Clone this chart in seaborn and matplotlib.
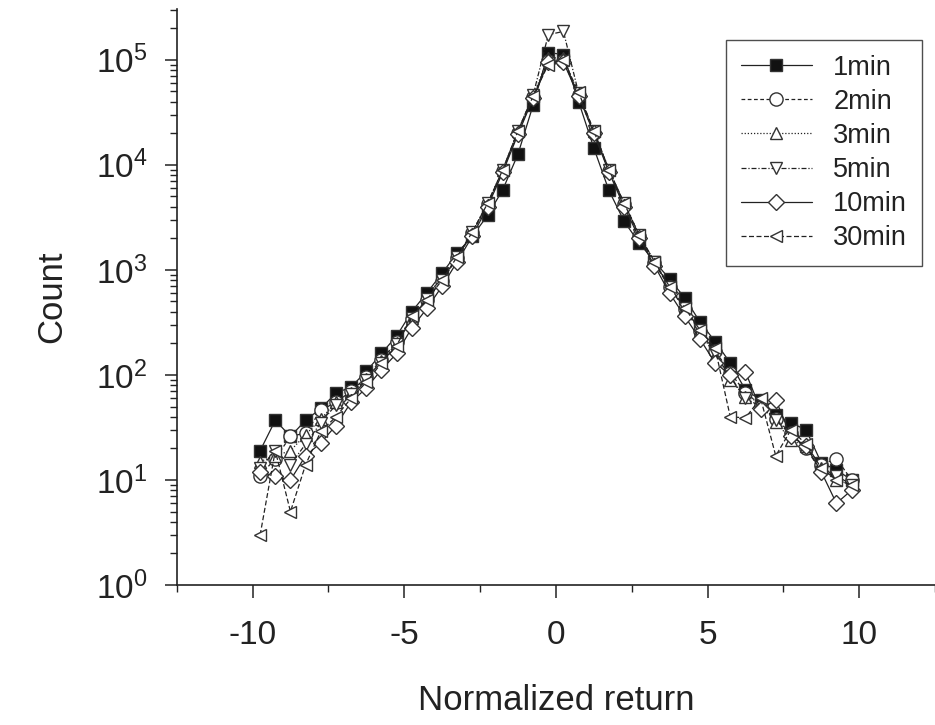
import numpy as np
import pandas as pd
import matplotlib
matplotlib.use('Agg')
import matplotlib.pyplot as plt
import matplotlib.ticker as mticker
import seaborn as sns

# bin centres of the normalized return histogram
bins = [-9.75, -9.25, -8.75, -8.25, -7.75, -7.25, -6.75, -6.25, -5.75, -5.25,
        -4.75, -4.25, -3.75, -3.25, -2.75, -2.25, -1.75, -1.25, -0.75, -0.25,
        0.25, 0.75, 1.25, 1.75, 2.25, 2.75, 3.25, 3.75, 4.25, 4.75,
        5.25, 5.75, 6.25, 6.75, 7.25, 7.75, 8.25, 8.75, 9.25, 9.75]

# counts
count_1min = [19, 37, 26, 37, 48, 67, 77, 108, 160, 235,
              400, 605, 930, 1450, 2100, 3300, 5800, 12600, 37000, 117000,
              112000, 40000, 14500, 5700, 2900, 1800, 1200, 820, 540, 320,
              208, 130, 72, 58, 42, 35, 30, 14.6, 12.5, 10]
count_2min = [11, 16, 26, 28, 46, 55, 70, 95, 140, 205,
              340, 520, 790, 1300, 2250, 4200, 8800, 20000, 44000, 98000,
              97000, 46000, 20000, 8800, 4200, 2100, 1150, 680, 420, 260,
              170, 105, 68, 52, 38, 28, 20, 14, 16, 10]
count_3min = [15, 17, 19, 27, 38, 55, 68, 92, 135, 200,
              350, 530, 800, 1320, 2300, 4300, 9000, 21000, 45000, 105000,
              103000, 47000, 21000, 9000, 4300, 2150, 1200, 690, 430, 265,
              150, 90, 62, 55, 36, 24, 21, 13, 10, 9]
count_5min = [13, 19, 14, 22, 35, 52, 66, 90, 130, 195,
              345, 525, 800, 1330, 2300, 4300, 9000, 21000, 46000, 173000,
              186000, 48000, 21000, 9000, 4300, 2150, 1180, 690, 435, 268,
              160, 95, 60, 50, 37, 27, 20, 12, 11, 9]
count_10min = [12, 10.8, 10, 17, 22.6, 33, 55, 75, 112, 160,
               280, 430, 700, 1200, 2100, 4000, 8500, 19500, 43000, 95000,
               95000, 45000, 20000, 8500, 4000, 2000, 1100, 600, 360, 220,
               130, 100, 107, 47, 58, 26, 21, 12, 6, 8]
count_30min = [3, 19, 5, 14, 29, 40, 60, 85, 130, 190,
               360, 520, 800, 1340, 2300, 4300, 9000, 21000, 45000, 90000,
               100000, 49000, 21000, 9000, 4300, 2150, 1200, 690, 435, 268,
               180, 40, 39, 60, 17, 30, 22, 13, 10, 9]

labels = ['1min', '2min', '3min', '5min', '10min', '30min']
series = [count_1min, count_2min, count_3min, count_5min, count_10min, count_30min]
markers = ['s', 'o', '^', 'v', 'D', '<']
dashes = ['-', (0, (3, 2)), (0, (1, 1.5)), (0, (4, 1.5, 1, 1.5)), '-', (0, (4, 2))]
msizes = [8.5, 9.5, 9, 9, 8, 9]

sns.set_theme(style='ticks')
plt.rcParams['font.family'] = ['Liberation Sans', 'DejaVu Sans']
plt.rcParams['mathtext.fontset'] = 'custom'
plt.rcParams['mathtext.rm'] = 'Liberation Sans'
plt.rcParams['axes.unicode_minus'] = False

fig = plt.figure(figsize=(9.35, 7.25), dpi=100)
ax = fig.add_axes([0.189, 0.193, 0.811, 0.795])

for lab, cnt, mk, ls, ms in zip(labels, series, markers, dashes, msizes):
    df = pd.DataFrame({'x': bins, 'y': cnt})
    face = '#111111' if lab == '1min' else 'white'
    sns.lineplot(data=df, x='x', y='y', ax=ax, color='#222222', linewidth=0.9,
                 linestyle=ls, marker=mk, markersize=ms, markerfacecolor=face,
                 markeredgecolor='#333333', markeredgewidth=1.0, label=lab)

ax.set_yscale('log')
ax.set_ylim(1, 3.06e5)
ax.set_xlim(-12.5, 12.5)
ax.xaxis.set_major_locator(mticker.MultipleLocator(5))
ax.xaxis.set_minor_locator(mticker.MultipleLocator(2.5))
ax.yaxis.set_major_locator(mticker.LogLocator(base=10, numticks=10))
ax.yaxis.set_minor_locator(mticker.LogLocator(base=10, subs=np.arange(2, 10), numticks=20))
ax.yaxis.set_minor_formatter(mticker.NullFormatter())

for s in ['top', 'right']:
    ax.spines[s].set_visible(False)
for s in ['left', 'bottom']:
    ax.spines[s].set_linewidth(1.2)
    ax.spines[s].set_color('#222222')

ax.tick_params(axis='both', which='major', direction='out', length=9, width=1.1,
               labelsize=24, color='#222222', labelcolor='#222222')
ax.tick_params(axis='both', which='minor', direction='out', length=5, width=1.0,
               color='#222222')
ax.tick_params(axis='x', which='major', pad=16)
ax.tick_params(axis='y', which='major', pad=12)

ax.set_xlabel('Normalized return', fontsize=25, color='#222222', labelpad=24)
ax.set_ylabel('Count', fontsize=25, color='#222222', labelpad=20)

leg = ax.legend(loc='upper right', bbox_to_anchor=(0.983, 0.946), borderaxespad=0,
                fontsize=19.5, frameon=True, fancybox=False, handlelength=2.6,
                handletextpad=0.8, labelspacing=0.3, borderpad=0.55)
leg.get_frame().set_edgecolor('#222222')
leg.get_frame().set_linewidth(1.0)
for t in leg.get_texts():
    t.set_color('#222222')

plt.savefig('out.png', dpi=100)
plt.close()
